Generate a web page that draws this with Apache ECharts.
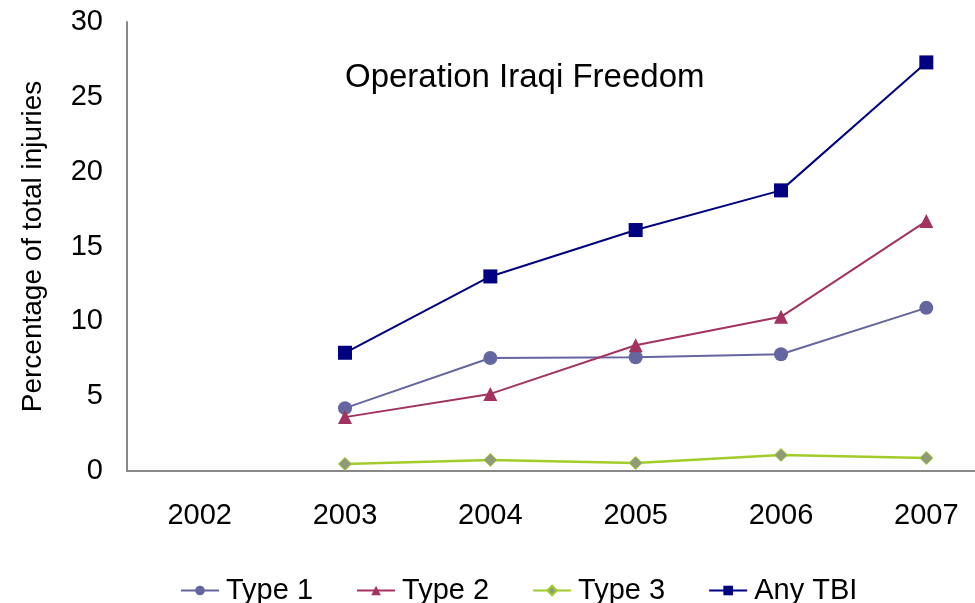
<!DOCTYPE html>
<html>
<head>
<meta charset="utf-8">
<script src="https://cdn.jsdelivr.net/npm/echarts@6/dist/echarts.min.js"></script>
<style>
  html, body { margin: 0; padding: 0; background: #fff; }
  #chart { width: 975px; height: 603px; }
</style>
</head>
<body>
<div id="chart"></div>
<script>
// data
var years = ['2002', '2003', '2004', '2005', '2006', '2007'];
var type1 = [null, 4.2, 7.55, 7.6, 7.8, 10.9];
var type2 = [null, 3.6, 5.15, 8.4, 10.3, 16.7];
var type3 = [null, 0.47, 0.74, 0.54, 1.07, 0.87];
var anyTBI = [null, 7.9, 13.0, 16.1, 18.75, 27.3];

var font = 'Liberation Sans, Arial, sans-serif';

var chart = echarts.init(document.getElementById('chart'));
chart.setOption({
  animation: false,
  textStyle: { fontFamily: font },
  title: {
    text: 'Operation Iraqi Freedom',
    left: 340,
    top: 56,
    textStyle: { fontFamily: font, fontSize: 33, fontWeight: 'normal', color: '#000' }
  },
  legend: {
    left: 175,
    top: 571,
    itemWidth: 38,
    itemHeight: 12,
    itemGap: 43,
    textStyle: { fontFamily: font, fontSize: 29, color: '#000', padding: [0, 0, 0, 2] },
    data: ['Type 1', 'Type 2', 'Type 3', 'Any TBI']
  },
  grid: {
    left: 127,
    top: 22,
    bottom: 132,
    width: 872,
    containLabel: false,
    outerBoundsMode: 'none'
  },
  xAxis: {
    type: 'category',
    data: years,
    boundaryGap: true,
    axisLine: { lineStyle: { color: '#888', width: 2 } },
    axisTick: { show: false },
    axisLabel: { color: '#000', fontSize: 29, fontFamily: font, margin: 30 }
  },
  yAxis: {
    type: 'value',
    min: 0,
    max: 30,
    interval: 5,
    name: 'Percentage of total injuries',
    nameLocation: 'middle',
    nameGap: 80,
    nameTextStyle: { color: '#000', fontSize: 28, fontFamily: font },
    axisLine: { show: true, lineStyle: { color: '#888', width: 2 } },
    axisTick: { show: false },
    splitLine: { show: false },
    axisLabel: { color: '#000', fontSize: 29, fontFamily: font, margin: 24 }
  },
  series: [
    {
      name: 'Type 1',
      type: 'line',
      data: type1,
      symbol: 'circle',
      symbolSize: 14,
      lineStyle: { color: '#6565a0', width: 2 },
      itemStyle: { color: '#6565a0' }
    },
    {
      name: 'Type 2',
      type: 'line',
      data: type2,
      symbol: 'triangle',
      symbolSize: 14,
      lineStyle: { color: '#a33260', width: 2 },
      itemStyle: { color: '#a33260' }
    },
    {
      name: 'Type 3',
      type: 'line',
      data: type3,
      symbol: 'diamond',
      symbolSize: 13,
      lineStyle: { color: '#a2cc2a', width: 2.5 },
      itemStyle: { color: '#8e9a78', borderColor: '#a2cc2a', borderWidth: 1 }
    },
    {
      name: 'Any TBI',
      type: 'line',
      data: anyTBI,
      symbol: 'rect',
      symbolSize: 14,
      lineStyle: { color: '#000080', width: 2 },
      itemStyle: { color: '#000080' }
    }
  ]
});
</script>
</body>
</html>
